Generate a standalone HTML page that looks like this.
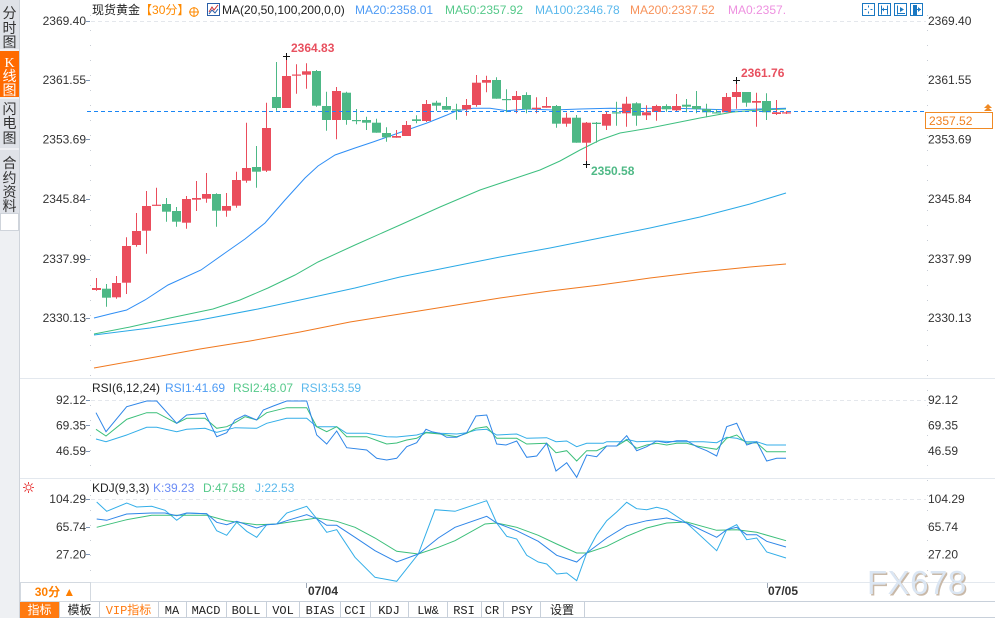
<!DOCTYPE html>
<html><head><meta charset="utf-8">
<style>
html,body{margin:0;padding:0;background:#fff;width:995px;height:618px;overflow:hidden}
svg{display:block;font-family:"Liberation Sans","Noto Sans CJK SC",sans-serif}
</style></head>
<body>
<svg width="995" height="618" viewBox="0 0 995 618" xmlns="http://www.w3.org/2000/svg">
<!-- sidebar -->
<rect x="0" y="0" width="20" height="618" fill="#eef0f3"/>
<rect x="0" y="0" width="19" height="213" fill="#dfe2e8"/>
<rect x="0" y="51" width="19" height="46" fill="#ff6a00"/>
<line x1="0" y1="50" x2="19" y2="50" stroke="#fff"/>
<line x1="0" y1="98" x2="19" y2="98" stroke="#fff"/>
<line x1="0" y1="149" x2="19" y2="149" stroke="#fff"/>
<rect x="0.5" y="213.5" width="18" height="17" fill="#fff" stroke="#cfd4db"/>
<line x1="19.5" y1="0" x2="19.5" y2="618" stroke="#cfd4db"/>
<g font-size="14" fill="#333" text-anchor="middle">
<text x="9.5" y="18">分</text><text x="9.5" y="33">时</text><text x="9.5" y="47">图</text>
<text x="9.5" y="67" fill="#fff" font-family="Liberation Serif,serif">K</text><text x="9.5" y="81" fill="#fff">线</text><text x="9.5" y="95" fill="#fff">图</text>
<text x="9.5" y="114">闪</text><text x="9.5" y="128">电</text><text x="9.5" y="143">图</text>
<text x="9.5" y="168">合</text><text x="9.5" y="183">约</text><text x="9.5" y="197">资</text><text x="9.5" y="211">料</text>
</g>

<!-- panel lines -->
<line x1="20" y1="378.5" x2="995" y2="378.5" stroke="#e3e8ee"/>
<line x1="20" y1="478.5" x2="995" y2="478.5" stroke="#e3e8ee"/>
<line x1="20" y1="582.5" x2="995" y2="582.5" stroke="#e3e8ee"/>
<line x1="20" y1="601.5" x2="995" y2="601.5" stroke="#c8d0da"/>
<line x1="20" y1="617.5" x2="995" y2="617.5" stroke="#c8d0da"/>
<!-- grids -->
<line x1="91" y1="21.5" x2="926" y2="21.5" stroke="#e4e7ec" stroke-dasharray="4,3"/>
<line x1="91" y1="400.5" x2="926" y2="400.5" stroke="#e4e7ec" stroke-dasharray="4,3"/>
<line x1="91" y1="499.5" x2="926" y2="499.5" stroke="#e4e7ec" stroke-dasharray="4,3"/>
<!-- axes -->
<line x1="90.5" y1="15" x2="90.5" y2="582" stroke="#c9ced6" stroke-dasharray="1,14"/>
<line x1="927.5" y1="15" x2="927.5" y2="582" stroke="#c9ced6" stroke-dasharray="1,14"/>
<g stroke="#7d95b5">
<line x1="86" y1="21.5" x2="90" y2="21.5"/><line x1="86" y1="80.5" x2="90" y2="80.5"/><line x1="86" y1="139.5" x2="90" y2="139.5"/>
<line x1="86" y1="199.5" x2="90" y2="199.5"/><line x1="86" y1="259.5" x2="90" y2="259.5"/><line x1="86" y1="318.5" x2="90" y2="318.5"/>
<line x1="86" y1="400.5" x2="90" y2="400.5"/><line x1="86" y1="425.5" x2="90" y2="425.5"/><line x1="86" y1="451.5" x2="90" y2="451.5"/>
<line x1="86" y1="499.5" x2="90" y2="499.5"/><line x1="86" y1="527.5" x2="90" y2="527.5"/><line x1="86" y1="554.5" x2="90" y2="554.5"/>
</g>

<!-- axis labels -->
<g font-size="12" fill="#333" text-anchor="end">
<text x="86" y="25">2369.40</text><text x="86" y="84">2361.55</text><text x="86" y="143.5">2353.69</text>
<text x="86" y="203">2345.84</text><text x="86" y="263">2337.99</text><text x="86" y="322">2330.13</text>
<text x="86" y="404">92.12</text><text x="86" y="429.5">69.35</text><text x="86" y="455">46.59</text>
<text x="86" y="503">104.29</text><text x="86" y="531">65.74</text><text x="86" y="558.5">27.20</text>
</g>
<g font-size="12" fill="#333">
<text x="928" y="25">2369.40</text><text x="928" y="84">2361.55</text><text x="928" y="143.5">2353.69</text>
<text x="928" y="203">2345.84</text><text x="928" y="263">2337.99</text><text x="928" y="322">2330.13</text>
<text x="928" y="404">92.12</text><text x="928" y="429.5">69.35</text><text x="928" y="455">46.59</text>
<text x="928" y="503">104.29</text><text x="928" y="531">65.74</text><text x="928" y="558.5">27.20</text>
</g>

<!-- header -->
<g font-size="12">
<text x="92" y="14" fill="#222">现货黄金<tspan fill="#ff8a00">【30分】</tspan></text>
<circle cx="194" cy="12" r="4.2" fill="none" stroke="#ff8a00"/>
<line x1="189" y1="12" x2="199" y2="12" stroke="#ff8a00"/><line x1="194" y1="7" x2="194" y2="17" stroke="#ff8a00"/>
<rect x="207.5" y="3.5" width="12" height="12" fill="#fff" stroke="#2a5fa8"/>
<polyline points="209,12 212,7 214,10 218,5" fill="none" stroke="#d03030"/>
<polyline points="209,14 212,10 215,13 218,9" fill="none" stroke="#2a5fa8"/>
<text x="222" y="14" fill="#222">MA(20,50,100,200,0,0)</text>
<text x="355" y="14" fill="#4e9bf5">MA20:2358.01</text>
<text x="445" y="14" fill="#56c98a">MA50:2357.92</text>
<text x="535" y="14" fill="#5ab8ec">MA100:2346.78</text>
<text x="630" y="14" fill="#f7925a">MA200:2337.52</text>
<text x="728" y="14" fill="#ee90e0">MA0:2357.</text>
</g>
<!-- top-right icons -->
<g fill="none" stroke="#1a78c2">
<rect x="862.5" y="3.5" width="12" height="12"/>
<rect x="878.5" y="3.5" width="12" height="12"/>
<rect x="894.5" y="3.5" width="12" height="12"/>
<rect x="910.5" y="3.5" width="12" height="12"/>
<path d="M868.5 5.5v2M868.5 11.5v2M864.5 9.5h2M870.5 9.5h2"/>
<path d="M881.5 5.5v9M887.5 5.5v9M882 9.5h5"/>
<path d="M897.5 5.5v9M897 13.5h8"/>
<path d="M913.5 5.5v9M916.5 5.5v9M916 9.5h5"/>
</g>
<path d="M884 7.5l-2 2 2 2z" fill="#1a78c2"/>
<path d="M900 7l4 2.5-4 2.5z" fill="#1a78c2"/>
<path d="M918 7l3 2.5-3 2.5z" fill="#1a78c2"/>
<rect x="913" y="5" width="4" height="10" fill="#1a78c2"/>

<!-- MA lines -->
<g fill="none" stroke-width="1">
<polyline stroke="#f0781e" points="94,368 150,358 200,349 250,341 300,332 350,322 400,314 450,306 500,298 550,291 600,285 650,278 700,272 750,267 786,264"/>
<polyline stroke="#2aa9e6" points="94,335 150,328 200,320 258,309 300,300 355,288 400,277 450,267 500,257 550,248 600,238 650,228 700,217 750,204 786,193"/>
<polyline stroke="#3dbf7f" points="94,334 130,327 170,318 213,309 240,300 268,288 295,275 318,262 355,245 400,225 440,207 480,190 510,180 540,170 560,161 580,150 600,140 620,133 650,128 700,118 733,112 760,110 786,109"/>
<polyline stroke="#2f8ef5" points="94,318 110,314 126.7,310 145,300 168,285 201,270 225,253 245,239 265,223 285,200 305,178 318,166 335,155 355,148 373,142 390,136 407,130 427,123 447,115 457,110.7 473,108.3 490,108.3 507,110.7 527,109 553,110 580,109 610,108.3 640,108.5 667,108 700,109 733,110 760,109 786,108.3"/>
</g>

<!-- candles -->
<g stroke="#ea4d5c" stroke-width="1">
<line x1="96.5" y1="278" x2="96.5" y2="290.7"/><line x1="116.5" y1="276" x2="116.5" y2="298.7"/><line x1="126.5" y1="237.3" x2="126.5" y2="294"/>
<line x1="136.5" y1="213" x2="136.5" y2="246.7"/><line x1="146.5" y1="191" x2="146.5" y2="253.7"/><line x1="156.5" y1="187.7" x2="156.5" y2="205.7"/>
<line x1="186.5" y1="196" x2="186.5" y2="228.7"/><line x1="196.5" y1="181" x2="196.5" y2="211"/><line x1="206.5" y1="173" x2="206.5" y2="202.7"/>
<line x1="226.5" y1="193" x2="226.5" y2="216.7"/><line x1="236.5" y1="171.7" x2="236.5" y2="207.7"/><line x1="246.5" y1="122.7" x2="246.5" y2="182.7"/>
<line x1="266.5" y1="102.7" x2="266.5" y2="172"/><line x1="286.5" y1="55.5" x2="286.5" y2="108"/><line x1="296.5" y1="64.3" x2="296.5" y2="93.7"/>
<line x1="306.5" y1="63.3" x2="306.5" y2="88.7"/><line x1="336.5" y1="87" x2="336.5" y2="139.3"/><line x1="396.5" y1="130" x2="396.5" y2="137.7"/>
<line x1="406.5" y1="121" x2="406.5" y2="136"/><line x1="426.5" y1="100" x2="426.5" y2="122"/><line x1="466.5" y1="99" x2="466.5" y2="115.7"/>
<line x1="476.5" y1="75" x2="476.5" y2="106.7"/><line x1="486.5" y1="75.7" x2="486.5" y2="92.3"/><line x1="516.5" y1="91" x2="516.5" y2="113.3"/>
<line x1="536.5" y1="97.3" x2="536.5" y2="113.3"/><line x1="546.5" y1="97" x2="546.5" y2="107.7"/><line x1="566.5" y1="112.7" x2="566.5" y2="126.7"/>
<line x1="586.5" y1="122" x2="586.5" y2="164.3"/><line x1="606.5" y1="111.7" x2="606.5" y2="130"/><line x1="626.5" y1="96.7" x2="626.5" y2="126.7"/>
<line x1="646.5" y1="105.3" x2="646.5" y2="120"/><line x1="656.5" y1="104.7" x2="656.5" y2="120.7"/><line x1="676.5" y1="94" x2="676.5" y2="111"/>
<line x1="726.5" y1="93" x2="726.5" y2="112.3"/><line x1="736.5" y1="80" x2="736.5" y2="108.7"/><line x1="756.5" y1="92.7" x2="756.5" y2="126.7"/>
<line x1="776.5" y1="100" x2="776.5" y2="115"/><line x1="786.5" y1="111" x2="786.5" y2="114"/>
</g>
<g fill="#ea4d5c">
<rect x="92" y="288" width="9" height="2"/><rect x="112" y="283" width="9" height="14.3"/><rect x="122" y="246" width="9" height="36.7"/>
<rect x="132" y="231" width="9" height="14"/><rect x="142" y="206" width="9" height="24.7"/><rect x="152" y="204.7" width="9" height="1.2"/>
<rect x="182" y="199" width="9" height="23.7"/><rect x="192" y="198" width="9" height="1.7"/><rect x="202" y="194" width="9" height="4.7"/>
<rect x="222" y="206" width="9" height="4.7"/><rect x="232" y="180" width="9" height="25.7"/><rect x="242" y="168" width="9" height="12.7"/>
<rect x="262" y="128" width="9" height="42.7"/><rect x="282" y="76" width="9" height="32"/><rect x="292" y="74.5" width="9" height="1.2"/>
<rect x="302" y="71.3" width="9" height="3.4"/><rect x="332" y="91" width="9" height="29"/><rect x="392" y="136" width="9" height="1.7"/>
<rect x="402" y="125" width="9" height="11"/><rect x="422" y="104" width="9" height="17"/><rect x="462" y="105" width="9" height="4.3"/>
<rect x="472" y="82.7" width="9" height="22.3"/><rect x="482" y="80" width="9" height="2.7"/><rect x="512" y="96" width="9" height="4"/>
<rect x="532" y="107.7" width="9" height="1.3"/><rect x="542" y="106" width="9" height="1.7"/><rect x="562" y="117.7" width="9" height="6"/>
<rect x="582" y="122.7" width="9" height="20"/><rect x="602" y="114" width="9" height="11.7"/><rect x="622" y="103.7" width="9" height="9.6"/>
<rect x="642" y="112.3" width="9" height="3"/><rect x="652" y="106" width="9" height="6"/><rect x="672" y="106" width="9" height="4.3"/>
<rect x="722" y="97" width="9" height="15.3"/><rect x="732" y="92" width="9" height="5"/><rect x="752" y="101" width="9" height="1.7"/>
<rect x="772" y="112.3" width="9" height="1.7"/><rect x="782" y="112.3" width="9" height="1.2"/>
</g>
<g stroke="#4db886" stroke-width="1">
<line x1="106.5" y1="284" x2="106.5" y2="306.7"/><line x1="166.5" y1="198" x2="166.5" y2="221.7"/><line x1="176.5" y1="207" x2="176.5" y2="226.7"/>
<line x1="216.5" y1="193.3" x2="216.5" y2="226.7"/><line x1="256.5" y1="146" x2="256.5" y2="187.7"/><line x1="276.5" y1="62" x2="276.5" y2="110.7"/>
<line x1="316.5" y1="70" x2="316.5" y2="106.7"/><line x1="326.5" y1="91.7" x2="326.5" y2="130.7"/><line x1="346.5" y1="91.7" x2="346.5" y2="124.7"/>
<line x1="356.5" y1="109" x2="356.5" y2="124.3"/><line x1="366.5" y1="116.7" x2="366.5" y2="130"/><line x1="376.5" y1="118.7" x2="376.5" y2="132.7"/>
<line x1="386.5" y1="127.3" x2="386.5" y2="141.7"/><line x1="416.5" y1="115.3" x2="416.5" y2="123.3"/><line x1="436.5" y1="100.7" x2="436.5" y2="110.7"/>
<line x1="446.5" y1="97" x2="446.5" y2="109.7"/><line x1="456.5" y1="103.7" x2="456.5" y2="119.7"/><line x1="496.5" y1="77.3" x2="496.5" y2="98.7"/>
<line x1="506.5" y1="89.3" x2="506.5" y2="112.3"/><line x1="526.5" y1="92.3" x2="526.5" y2="113.3"/><line x1="556.5" y1="105" x2="556.5" y2="127.7"/>
<line x1="576.5" y1="115" x2="576.5" y2="142.7"/><line x1="596.5" y1="122" x2="596.5" y2="142.7"/><line x1="616.5" y1="101.7" x2="616.5" y2="125.7"/>
<line x1="636.5" y1="102.3" x2="636.5" y2="125.7"/><line x1="666.5" y1="104.3" x2="666.5" y2="111.7"/><line x1="686.5" y1="99" x2="686.5" y2="112.3"/>
<line x1="696.5" y1="91" x2="696.5" y2="113.3"/><line x1="706.5" y1="103.7" x2="706.5" y2="117.3"/><line x1="716.5" y1="109" x2="716.5" y2="113.3"/>
<line x1="746.5" y1="92" x2="746.5" y2="106.7"/><line x1="766.5" y1="93.3" x2="766.5" y2="120"/>
</g>
<g fill="#4db886">
<rect x="102" y="288.7" width="9" height="9"/><rect x="162" y="204" width="9" height="7.7"/><rect x="172" y="211" width="9" height="10.7"/>
<rect x="212" y="194" width="9" height="16.7"/><rect x="252" y="167" width="9" height="4.7"/><rect x="272" y="97" width="9" height="11"/>
<rect x="312" y="71" width="9" height="34.7"/><rect x="322" y="106" width="9" height="14"/><rect x="342" y="92.7" width="9" height="27.3"/>
<rect x="352" y="120" width="9" height="1.2"/><rect x="362" y="120" width="9" height="2.7"/><rect x="372" y="122.7" width="9" height="10"/>
<rect x="382" y="133" width="9" height="4.3"/><rect x="412" y="119.3" width="9" height="1.7"/><rect x="432" y="102.7" width="9" height="3"/>
<rect x="442" y="106" width="9" height="3.7"/><rect x="452" y="109.3" width="9" height="1.2"/><rect x="492" y="80" width="9" height="18.7"/>
<rect x="502" y="99" width="9" height="1.2"/><rect x="522" y="95" width="9" height="14.3"/><rect x="552" y="106" width="9" height="17.7"/>
<rect x="572" y="117.7" width="9" height="25"/><rect x="592" y="122.7" width="9" height="1.3"/><rect x="612" y="112.3" width="9" height="1.2"/>
<rect x="632" y="103.3" width="9" height="12.4"/><rect x="662" y="106" width="9" height="3.3"/><rect x="682" y="104.7" width="9" height="2"/>
<rect x="692" y="106" width="9" height="3"/><rect x="702" y="109" width="9" height="3.3"/><rect x="712" y="112.3" width="9" height="1.2"/>
<rect x="742" y="92" width="9" height="10.7"/><rect x="762" y="101" width="9" height="11.3"/>
</g>

<!-- current price line -->
<line x1="87" y1="111.5" x2="925" y2="111.5" stroke="#1a86f5" stroke-width="1.1" stroke-dasharray="4,3"/>
<rect x="925.5" y="112.5" width="67" height="16" fill="#fff" stroke="#f08a24"/>
<text x="929" y="125" font-size="12" fill="#f08020">2357.52</text>
<path d="M984 108l4-4 4 4z M984 111l4-4 4 4z" fill="#f08a24"/>

<!-- markers -->
<g stroke="#111" stroke-width="1">
<path d="M283 56.5h7M286.5 53v7"/>
<path d="M733 80.5h7M736.5 77v7"/>
<path d="M583 164.5h7M586.5 161v7"/>
</g>
<g font-size="12" font-weight="bold">
<text x="291" y="52" fill="#e8505f">2364.83</text>
<text x="741" y="77" fill="#e8505f">2361.76</text>
<text x="591" y="175" fill="#4fb986">2350.58</text>
</g>

<!-- RSI -->
<g font-size="12">
<text x="92" y="392" fill="#222">RSI(6,12,24)</text>
<text x="165" y="392" fill="#4e9bf5">RSI1:41.69</text>
<text x="233" y="392" fill="#56c98a">RSI2:48.07</text>
<text x="301" y="392" fill="#5ab8ec">RSI3:53.59</text>
</g>
<g fill="none" stroke-width="1">
<polyline stroke="#33aee8" points="96,439 106,441.7 126.7,435 146.7,427.3 156.7,427.3 176.7,431.7 186.7,429.3 205,428.3 216.7,432.3 235,427.7 256.7,428.3 266.7,423.3 286.7,418.3 306.7,418.3 316.7,426.7 336.7,426.7 346.7,433.3 366.7,433.3 386.7,436.7 396.7,437 406.7,436 416.7,435 426,432.3 440,433.3 456.7,434 466.7,432.7 476,430 486.7,429.3 496.7,435 516.7,434 526.7,438.3 546.7,437.7 556,441.7 566.7,441 576.7,446.7 586.7,443.3 603.3,443.3 606.7,441.7 623.3,441.7 626.7,439.3 636.7,441.7 656.7,441 676.7,441.7 703.3,441.7 716.7,442.7 726.7,437.3 736.7,438.3 746.7,441.7 756.7,441.7 766.7,445 786,445"/>
<polyline stroke="#3cbf7a" points="96,429.3 106,436 126.7,419.3 146.7,412.7 156.7,412.7 176.7,423.3 186.7,418.3 205,418.3 216.7,428.3 226.7,426.7 235,422.7 245,416.7 256.7,420 266.7,412.7 286.7,407.7 306.7,407.7 316.7,426.7 326.7,431.7 336.7,426.7 346.7,436.7 366.7,436.7 386.7,444 396.7,443 406.7,440 416.7,438.3 426,432.7 440,434 456.7,436.7 466.7,433.3 476,428.3 486.7,426.7 496.7,438.3 516.7,438.3 526.7,444 546.7,443.3 556,452.7 566.7,450.7 576.7,461 586.7,450.7 596.7,450.7 606.7,446 616.7,446 626.7,440 636.7,448.3 646.7,445 656.7,443.3 666.7,445 676.7,443.3 686.7,443.3 696.7,446 706.7,447.7 716.7,449.3 726.7,438.3 736.7,435 746.7,443.3 756.7,442.7 766.7,451.7 786,451.7"/>
<polyline stroke="#2f86e8" points="96,412.7 106,431.7 126.7,406.7 146.7,401 156.7,401 176.7,423.3 186.7,415 205,413.3 216.7,436.7 226.7,432.7 235,420 245,415 256.7,420 263.3,410 273.3,406 286.7,401 306.7,401 316.7,435 326.7,444 336.7,431 346.7,447.7 366.7,450 376.7,458.3 386.7,460 396.7,458.3 406.7,446.7 416.7,442.7 426,429.3 431.7,431.7 440,433.3 446.7,437.3 456.7,437.3 466.7,432.7 476,416 486.7,415 496.7,444 506,445 516.7,441 526.7,457.3 536.7,456 546.7,443.3 556,471 566.7,462.7 576.7,477.3 586.7,455 596.7,456.7 606.7,446 616.7,446 626.7,435.7 636.7,450.7 646.7,446.7 656.7,441 666.7,442.7 676.7,440.7 686.7,440.7 696.7,446.7 706.7,450.7 716.7,456 726.7,426.7 736.7,423.3 746.7,445 756.7,441.7 766.7,461 776.7,458.3 786,458.3"/>
</g>

<!-- KDJ -->
<g stroke="#e84040" stroke-width="1" fill="none">
<circle cx="28.5" cy="487.5" r="2.5"/>
<path d="M28.5 482v2M28.5 491v2M23 487.5h2M32 487.5h2M24.5 483.5l1.5 1.5M31 490l1.5 1.5M24.5 491.5l1.5-1.5M31 485l1.5-1.5"/>
</g>
<g font-size="12">
<text x="92" y="492" fill="#222">KDJ(9,3,3)</text>
<text x="153" y="492" fill="#6b8cf5">K:39.23</text>
<text x="203" y="492" fill="#56c98a">D:47.58</text>
<text x="255" y="492" fill="#5ab8ec">J:22.53</text>
</g>
<g fill="none" stroke-width="1">
<polyline stroke="#33aee8" points="96.7,502 106.7,511.3 126.7,503 136.7,507 151.7,506.3 165,510.3 176.7,520.3 186.7,513 206.7,513.7 216.7,530.7 226.7,535.3 236.7,522.3 246.7,531.3 256.7,537.3 266.7,524.7 276.7,524 286.7,513 306.7,506.3 316.7,518.7 326.7,532.3 336.7,529.7 355,557.3 375,577.3 396.7,581.3 418.3,554 435,509.7 455,511.3 486.7,500.7 496.7,523 506.7,536.3 516.7,539 526.7,555.3 538.3,562 546.7,564 556.7,574 566.7,573 576.7,580.7 586.7,553 596.7,534.7 606.7,520.7 616.7,512 626.7,502.3 636.7,508.7 646.7,509.7 656.7,507.3 666.7,509.7 686.7,523 716.7,550.7 726.7,529.7 736.7,524.7 746.7,539.7 756.7,538 766.7,552 786,558"/>
<polyline stroke="#3cbf7a" points="96.7,527.3 126.7,519.7 151.7,515.3 206.7,515.3 226.7,520.7 256.7,524.7 276.7,524 316.7,518 336.7,521.3 355,527.3 375,538 396.7,551.3 418.3,554 438.3,547.3 455,540.7 485,524 496.7,523 516.7,527.3 538.3,535.3 556.7,544 576.7,553 586.7,553 606.7,546.3 626.7,536.3 646.7,528 666.7,523 686.7,522 716.7,530.3 736.7,529.7 756.7,532.3 786,540.7"/>
<polyline stroke="#2f86e8" points="96.7,519 106.7,520.3 126.7,514 151.7,513 165,513 176.7,515.7 186.7,513 206.7,513.7 216.7,522.3 226.7,524.7 236.7,521.3 246.7,524.7 256.7,528 266.7,524.7 276.7,524 286.7,520.7 306.7,514.7 316.7,518.7 326.7,525.3 336.7,525.3 355,537.3 375,550.7 396.7,562 418.3,554 438.3,538 455,527.3 486.7,516.3 496.7,523 516.7,530.7 538.3,541.3 556.7,555.3 576.7,562 586.7,553 606.7,538 626.7,525.7 646.7,520.7 666.7,518 686.7,523 716.7,537.3 726.7,529.7 736.7,527.3 746.7,534.7 756.7,534.7 766.7,541.3 786,547"/>
</g>

<!-- x axis row -->
<rect x="20.5" y="582.5" width="70" height="19" fill="#fff" stroke="#d3d9e0"/>
<text x="55" y="596" font-size="12" font-weight="bold" fill="#ff7f00" text-anchor="middle">30分 ▲</text>
<line x1="306.5" y1="583" x2="306.5" y2="588" stroke="#9aa5b3"/>
<line x1="767.5" y1="583" x2="767.5" y2="588" stroke="#9aa5b3"/>
<text x="308" y="595" font-size="12" font-weight="bold" fill="#333">07/04</text>
<text x="768" y="595" font-size="12" font-weight="bold" fill="#333">07/05</text>

<!-- watermark -->
<text x="868.5" y="595.5" font-size="33" fill="#c9b9a8" letter-spacing="0.5">FX678</text>
<text x="867" y="594" font-size="33" fill="#dbe6f3" letter-spacing="0.5">FX678</text>

<!-- toolbar -->
<rect x="20" y="602" width="39" height="16" fill="#ff7a10"/>
<g stroke="#c8d0da">
<line x1="59.5" y1="602" x2="59.5" y2="618"/><line x1="99.5" y1="602" x2="99.5" y2="618"/><line x1="158.5" y1="602" x2="158.5" y2="618"/>
<line x1="186.5" y1="602" x2="186.5" y2="618"/><line x1="226.5" y1="602" x2="226.5" y2="618"/><line x1="266.5" y1="602" x2="266.5" y2="618"/>
<line x1="299.5" y1="602" x2="299.5" y2="618"/><line x1="340.5" y1="602" x2="340.5" y2="618"/><line x1="370.5" y1="602" x2="370.5" y2="618"/>
<line x1="408.5" y1="602" x2="408.5" y2="618"/><line x1="447.5" y1="602" x2="447.5" y2="618"/><line x1="481.5" y1="602" x2="481.5" y2="618"/>
<line x1="503.5" y1="602" x2="503.5" y2="618"/><line x1="540.5" y1="602" x2="540.5" y2="618"/><line x1="584.5" y1="602" x2="584.5" y2="618"/>
</g>
<g font-size="12" text-anchor="middle" fill="#222" font-family="Liberation Mono, Noto Sans CJK SC, monospace">
<text x="39.5" y="614" fill="#fff" font-family="Noto Sans CJK SC, sans-serif">指标</text>
<text x="79.5" y="614" font-family="Noto Sans CJK SC, sans-serif">模板</text>
<text x="128.5" y="614" fill="#ff7a10">VIP<tspan font-family="Noto Sans CJK SC, sans-serif">指标</tspan></text>
<text x="172" y="614">MA</text>
<text x="206" y="614">MACD</text>
<text x="246" y="614">BOLL</text>
<text x="283" y="614">VOL</text>
<text x="320" y="614">BIAS</text>
<text x="355" y="614">CCI</text>
<text x="389" y="614">KDJ</text>
<text x="428" y="614">LW&amp;</text>
<text x="464" y="614">RSI</text>
<text x="492" y="614">CR</text>
<text x="522" y="614">PSY</text>
<text x="562" y="614" font-family="Noto Sans CJK SC, sans-serif">设置</text>
</g>
</svg>
</body></html>
